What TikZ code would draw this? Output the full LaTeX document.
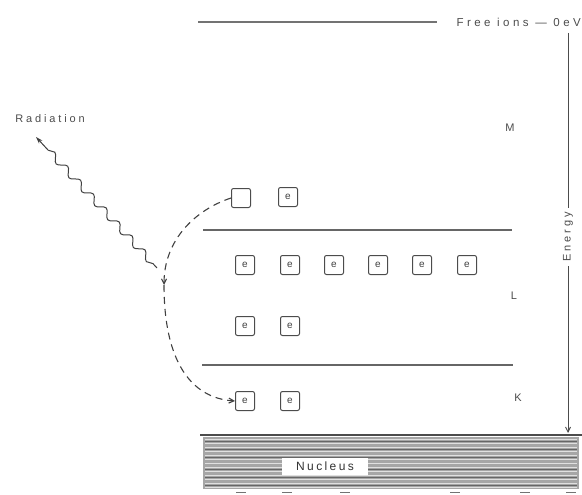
\documentclass[tikz,border=0pt]{standalone}
\usepackage{fontspec}
\setmainfont{Liberation Sans}
\usetikzlibrary{decorations.pathmorphing,arrows.meta}
\begin{document}
\begin{tikzpicture}[x=1pt,y=-1pt,
  lbl/.style={font=\fontsize{11}{12}\selectfont\addfontfeature{LetterSpace=26}, text=black!70, inner sep=1pt},
  ebox/.style={draw=black!70, line width=1pt, rounded corners=2pt, minimum size=19pt, inner sep=0pt, font=\fontsize{10}{10}\selectfont, text=black!75},
  level/.style={draw=black!60, line width=2.4pt},
  dashconn/.style={draw=black!75, line width=1.1pt, dash pattern=on 7pt off 5pt},
  tipc/.style={-{Straight Barb[length=5pt,width=5pt]}}
]
\useasboundingbox (0,0) rectangle (582,495);

% top line and free ions
\draw[black!55, line width=1.3pt] (198,22) -- (437,22);
\node[lbl, anchor=east, inner sep=0pt, font=\fontsize{11.5}{12}\selectfont\addfontfeature{LetterSpace=30}] (free) at (581,22) {Free ions — 0eV};

% energy axis
\coordinate (etop) at (568,33);
\coordinate (ebot) at (568,433);
\draw[black!70, line width=0.9pt, tipc] (etop) -- (ebot);
\node[lbl, rotate=90, fill=white, inner sep=4pt] (energy) at (568,237) {Energy};

% level lines
\draw[level] (203,230) -- (512,230);
\draw[level] (202,365) -- (513,365);

% shell labels
\node[lbl] (M) at (510,128) {M};
\node[lbl] (L) at (514,296) {L};
\node[lbl] (K) at (518,398) {K};

% electrons
\node[ebox] (hole) at (241,198) {};
\node[ebox] (m2) at (288,197) {e};
\foreach \x [count=\i] in {245,290,334,378,422,467}
  \node[ebox] (l\i) at (\x,265) {e};
\node[ebox] (l7) at (245,326) {e};
\node[ebox] (l8) at (290,326) {e};
\node[ebox] (k1) at (245,401) {e};
\node[ebox] (k2) at (290,401) {e};

% dashed transition
\coordinate (mid) at (164,285);
\draw[dashconn, tipc] (hole.west) .. controls (195,210) and (164,240) .. (mid);
\draw[dashconn, tipc] (mid) .. controls (164,360) and (190,398) .. (k1.west);

% radiation
\node[lbl] (rad) at (50,119) {Radiation};
\coordinate (wstart) at (157,268);
\coordinate (wend) at (36,137);
\draw[black!75, line width=1pt, -{Stealth[length=7pt,width=4.5pt]},
  decorate, decoration={snake, amplitude=3.5pt, segment length=19pt, pre length=6pt, post length=14pt}]
  (wstart) -- (wend);

% nucleus
\fill[black!35] (203,437) rectangle (579,489);
\foreach \y in {439,443,447,451,455,459,463,467,471,475,479,483,487}
  \draw[black!12, line width=0.7pt] (205,\y) -- (577,\y);
\foreach \y in {441,449,457,469,477,485}
  \draw[black!60, line width=0.9pt] (205,\y) -- (577,\y);
\draw[black!70, line width=2pt] (200,435) -- (582,435);
\node[lbl, fill=white, inner sep=3pt, minimum width=86pt, minimum height=17pt, font=\fontsize{12}{12}\selectfont\addfontfeature{LetterSpace=20}, text=black!80] (nuc) at (325,466) {Nucleus};
\foreach \x in {236,282,340,450,520,566}
  \draw[black!55, line width=0.8pt] (\x,492) -- (\x+10,492);
\end{tikzpicture}
\end{document}
